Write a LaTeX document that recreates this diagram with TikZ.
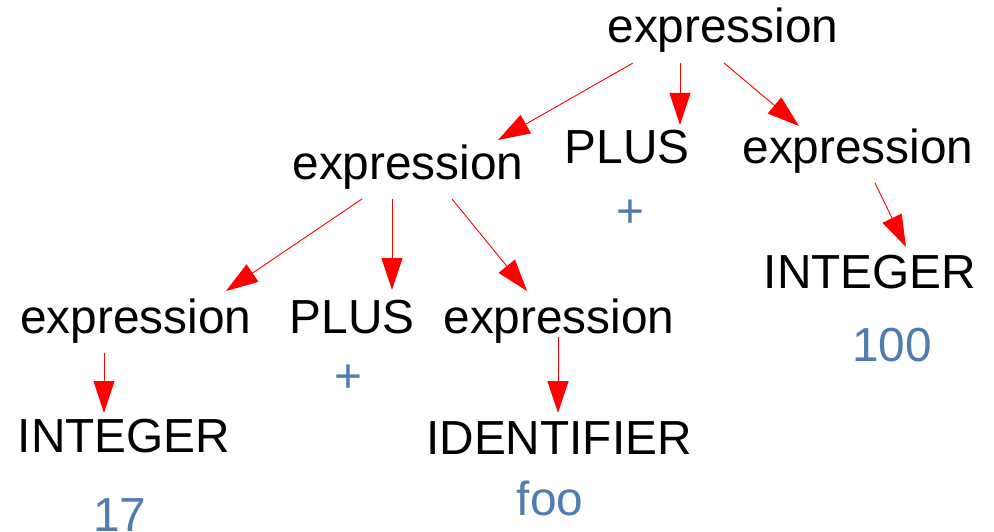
\documentclass[tikz,border=0pt]{standalone}
\usepackage{fontspec}
\setmainfont{Liberation Sans}
\usetikzlibrary{arrows.meta}
\definecolor{tokblue}{RGB}{80,124,176}
\tikzset{
  sym/.style={anchor=base, inner sep=0pt, font=\fontsize{47.8}{56}\selectfont},
  val/.style={sym, text=tokblue},
  edge/.style={draw=red, line width=0.9pt, -{Triangle[length=32pt,width=21pt]}, red},
}
\begin{document}
\begin{tikzpicture}[x=1pt, y=-1pt]
\useasboundingbox (0,0) rectangle (994,532);

% grammar symbols
\node[sym] (root) at (723,43) {expression};
\node[sym] (lexp) at (408,179) {expression};
\node[sym] (plus1) at (627,164) {PLUS};
\node[val] (plus1v) at (630,228) {+};
\node[sym] (rexp) at (858,164) {expression};
\node[sym] (int100) at (870,288) {INTEGER};
\node[val] (v100) at (892,361) {100};
\node[sym] (llexp) at (136,333) {expression};
\node[sym] (plus2) at (352,333) {PLUS};
\node[val] (plus2v) at (348,392) {+};
\node[sym] (lrexp) at (559,333) {expression};
\node[sym] (int17) at (124,452) {INTEGER};
\node[val] (v17) at (120,531) {17};
\node[sym] (ident) at (559,454) {IDENTIFIER};
\node[val] (vfoo) at (550,515) {foo};

% connector end points
\coordinate (r1) at (633,63);  \coordinate (t1) at (498,140);
\coordinate (r2) at (680,63);  \coordinate (t2) at (680,125);
\coordinate (r3) at (724,63);  \coordinate (t3) at (799,126);
\coordinate (l1) at (362,199); \coordinate (u1) at (226,291);
\coordinate (l2) at (392,199); \coordinate (u2) at (392,290);
\coordinate (l3) at (452,199); \coordinate (u3) at (527,291);
\coordinate (q1) at (875,183); \coordinate (w1) at (906,247);
\coordinate (p1) at (104,353); \coordinate (z1) at (104,413);
\coordinate (p2) at (558,337); \coordinate (z2) at (558,413);

% parse tree edges
\draw[edge] (r1) -- (t1);
\draw[edge] (r2) -- (t2);
\draw[edge] (r3) -- (t3);
\draw[edge] (l1) -- (u1);
\draw[edge] (l2) -- (u2);
\draw[edge] (l3) -- (u3);
\draw[edge] (q1) -- (w1);
\draw[edge] (p1) -- (z1);
\draw[edge] (p2) -- (z2);
\end{tikzpicture}
\end{document}
